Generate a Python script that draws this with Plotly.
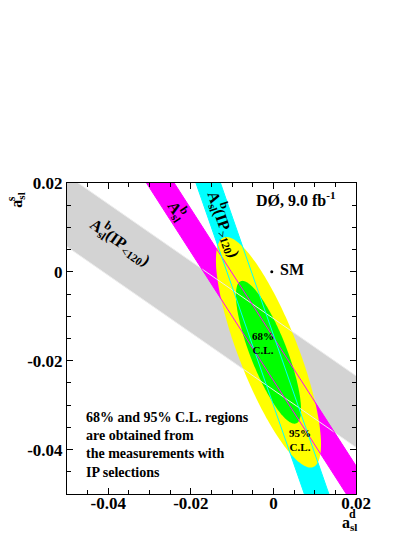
import numpy as np
import plotly.graph_objects as go

# measured bands: a_s = intercept + slope * a_d, +/- half width (in a_s)
band_names = ["IP<120", "all", "IP>120"]
band_slope = [-0.645, -1.446, -2.666]
band_intercept = [-0.01855, -0.0196, -0.02211]
band_halfwidth = [0.00804, 0.00486, 0.00792]
band_fill = ["#d3d3d3", "#ff00ff", "#00ffff"]
band_edge = ["#ececec", "#ff00ff", "#00ffff"]

# combined fit
fit_center = [-0.0012, -0.0181]   # a_sl^d, a_sl^s
fit_sigma = [0.0052, 0.0106]
fit_rho = -0.799
cl_chi2 = [5.99, 2.30]            # 95%, 68% (2 d.o.f.)
cl_color = ["#ffff00", "#00ff00"]

sm_point = [-0.0004, 0.00002]

x_ticks = [-0.04, -0.02, 0, 0.02]
x_ticktext = ["-0.04", "-0.02", "0", "0.02"]
y_ticks = [-0.04, -0.02, 0, 0.02]
y_ticktext = ["-0.04", "-0.02", "0", "0.02"]

FONT = "Liberation Serif"

fig = go.Figure()

ad = np.array([-0.08, 0.05])
for s, c, w, col in zip(band_slope, band_intercept, band_halfwidth, band_fill):
    up = c + w + s * ad
    lo = c - w + s * ad
    fig.add_trace(go.Scatter(
        x=[ad[0], ad[1], ad[1], ad[0], ad[0]],
        y=[up[0], up[1], lo[1], lo[0], up[0]],
        fill="toself", fillcolor=col, mode="none",
        showlegend=False, hoverinfo="skip"))

# ellipses
t = np.linspace(0, 2 * np.pi, 200)
sx, sy = fit_sigma
cov = np.array([[sx * sx, fit_rho * sx * sy], [fit_rho * sx * sy, sy * sy]])
L = np.linalg.cholesky(cov)
for chi2, col in zip(cl_chi2, cl_color):
    pts = L @ np.vstack([np.cos(t), np.sin(t)]) * np.sqrt(chi2)
    fig.add_trace(go.Scatter(
        x=pts[0] + fit_center[0], y=pts[1] + fit_center[1],
        fill="toself", fillcolor=col, mode="none",
        showlegend=False, hoverinfo="skip"))

# band edges drawn on top
for s, c, w, col in zip(band_slope, band_intercept, band_halfwidth, band_edge):
    for sign in (1, -1):
        fig.add_trace(go.Scatter(
            x=ad, y=c + sign * w + s * ad, mode="lines",
            line=dict(color=col, width=1),
            showlegend=False, hoverinfo="skip"))

fig.add_trace(go.Scatter(
    x=[sm_point[0]], y=[sm_point[1]], mode="markers",
    marker=dict(color="black", size=3), showlegend=False, hoverinfo="skip"))

bold = dict(family=FONT, color="black", weight="bold")


def note(x, y, text, size, angle=0, xanchor="center", align="center",
         ref="", shift=(0, 0)):
    # shift = (along text, up from text) in px, rotated with the text
    th = np.radians(angle)
    a, b = shift
    xs = a * np.cos(th) + b * np.sin(th)
    ys = -(a * np.sin(th) - b * np.cos(th))
    kw = dict(xref="paper", yref="paper") if ref == "paper" else {}
    fig.add_annotation(x=x, y=y, text=text, showarrow=False, textangle=angle,
                       xanchor=xanchor, yanchor="middle", align=align,
                       xshift=xs, yshift=ys, font=dict(size=size, **bold), **kw)


# band labels with stacked b / sl
note(-0.0236, 0.0135, "A<sub>sl</sub>", 16, 57)
note(-0.0236, 0.0135, "b", 12, 57, shift=(4, 8))
note(-0.0123, 0.0106, "A<sub>sl</sub>(IP<sub>&gt;120</sub>)", 16, 71)
note(-0.0123, 0.0106, "b", 12, 71, shift=(-18, 8))
note(-0.0374, 0.0065, "A<sub>sl</sub>(IP<sub>&lt;120</sub>)", 16, 35)
note(-0.0374, 0.0065, "b", 12, 35, shift=(-18, 8))

note(-0.0048, 0.0165, "DØ, 9.0 fb<sup>-1</sup>", 16, xanchor="left")
note(0.0010, 0.0005, "SM", 16, xanchor="left")
note(-0.0025, -0.0160, "68%<br>C.L.", 11)
note(0.0065, -0.0378, "95%<br>C.L.", 11)
note(-0.0459, -0.0389,
     "68% and 95% C.L. regions<br>are obtained from<br>the measurements with<br>IP selections",
     14, xanchor="left", align="left")

# axis titles (paper coords, outside the frame)
note(0.977, -0.095, "a<sub>sl</sub>", 16, ref="paper")
note(0.989, -0.064, "d", 12, ref="paper")
note(-0.172, 0.944, "a<sub>sl</sub>", 16, -90, ref="paper")
note(-0.195, 0.950, "s", 12, -90, ref="paper")

axis_common = dict(
    showgrid=False, zeroline=False, showline=True, linecolor="black", linewidth=1,
    mirror="allticks", ticks="inside", ticklen=6, tickcolor="black",
    tickfont=dict(size=17, **bold), automargin=False,
    minor=dict(tick0=0, dtick=0.005, ticks="inside", ticklen=4, tickcolor="black"),
)

# the page adds an 8px body margin, so the figure is 8px smaller
fig.update_layout(
    width=407, height=529,
    margin=dict(l=59, r=59, t=175, b=43),
    paper_bgcolor="white", plot_bgcolor="white",
    xaxis=dict(range=[-0.05, 0.02], tickvals=x_ticks, ticktext=x_ticktext,
               ticklabelstandoff=-6, **axis_common),
    yaxis=dict(range=[-0.05, 0.02], tickvals=y_ticks, ticktext=y_ticktext, **axis_common),
)

fig.write_html("out.html")
